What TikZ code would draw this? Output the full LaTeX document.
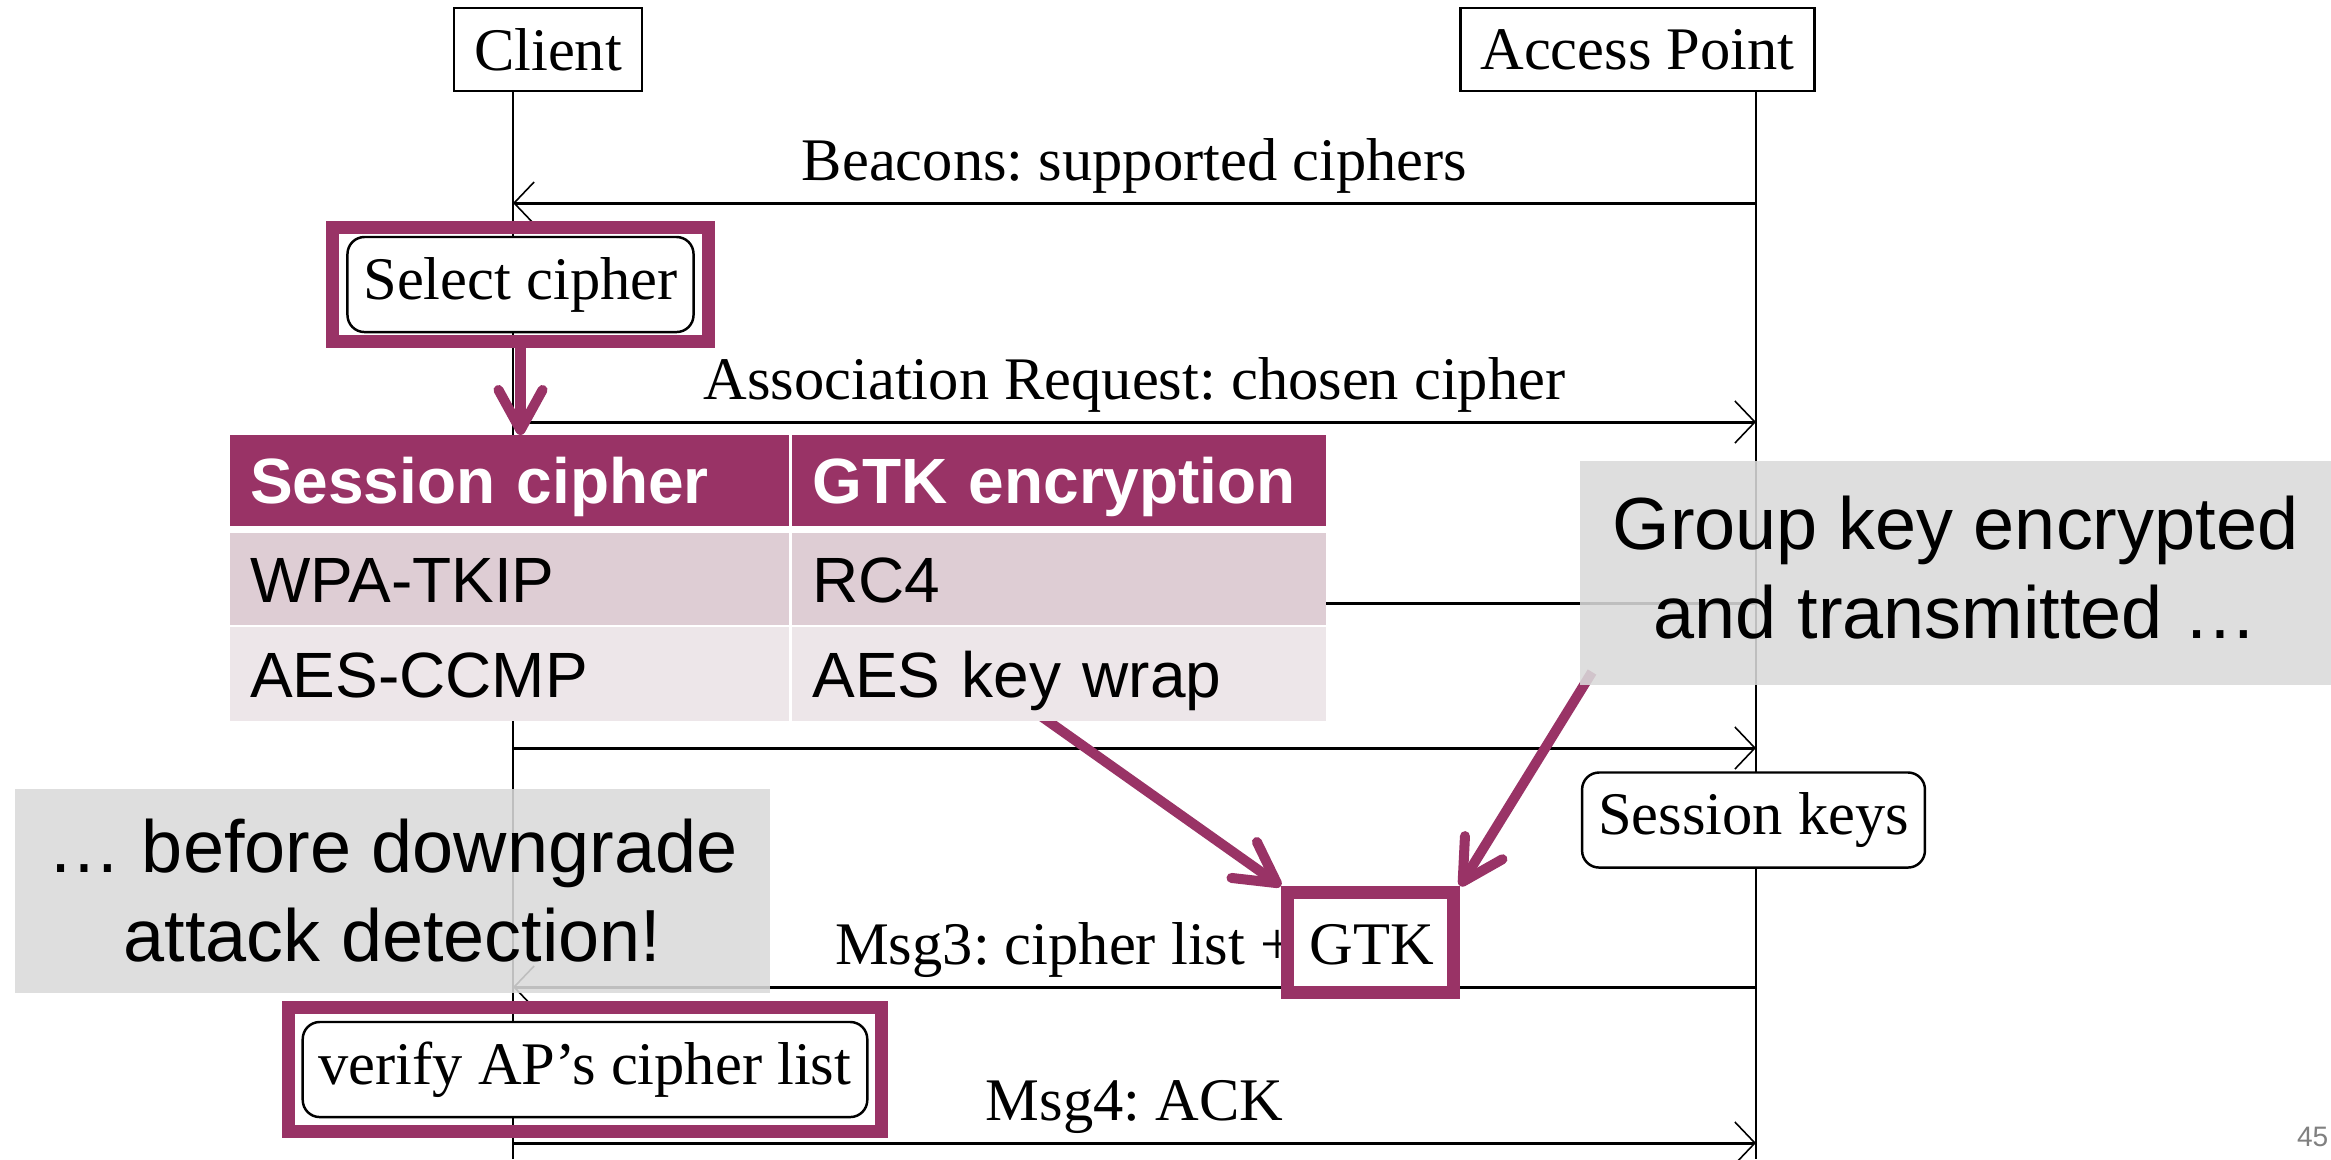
\documentclass[tikz,border=0pt]{standalone}
\usepackage{fontspec}
\setmainfont{Liberation Serif}
\setsansfont{Liberation Sans}
\usepackage{tikz}
\usetikzlibrary{arrows.meta}
\usetikzlibrary{positioning}
\usetikzlibrary{fit}
\definecolor{plum}{RGB}{153,51,102}
\definecolor{rowpink}{RGB}{222,205,212}
\definecolor{rowpale}{RGB}{237,230,233}
\definecolor{notegray}{RGB}{217,217,217}
\definecolor{pagegray}{RGB}{128,128,128}
\frenchspacing

\begin{document}
\begin{tikzpicture}[x=0.01cm,y=-0.01cm,
		diag/.style={font=\fontsize{17.2}{20.6}\selectfont},
		actor/.style={diag,rectangle,draw=black,line width=0.7pt,minimum height=0.83cm,inner xsep=0.2cm},
		life/.style={line width=0.55pt},
		msg/.style={line width=0.85pt,-{Straight Barb[length=0.2cm,width=0.42cm,line width=0.45pt]}},
		lbl/.style={diag,anchor=base,yshift=0.23cm,inner sep=0pt},
		action/.style={diag,rectangle,rounded corners=0.17cm,draw=black,line width=0.7pt,fill=white,minimum height=0.95cm,inner xsep=0.16cm},
		hilite/.style={rectangle,draw=plum,line width=3.7pt},
		hiarrow/.style={draw=plum,line width=2.85pt,-{Straight Barb[round,length=0.4cm,width=0.44cm]}},
		cell/.style={rectangle,font=\sffamily\fontsize{18.2}{21.8}\selectfont,inner xsep=0.2cm,inner ysep=0pt,text height=0.46cm,text depth=0cm,align=left,outer sep=0pt},
		hcell/.style={cell,fill=plum,text=white,font=\sffamily\bfseries\fontsize{18.2}{21.8}\selectfont,minimum height=0.91cm},
		note/.style={rectangle,fill=notegray,fill opacity=0.88,text opacity=1,font=\sffamily\fontsize{21}{25.3}\selectfont,align=center,inner sep=0pt}]
		\useasboundingbox (0,0) rectangle (2331,1159);
		
		\node[actor] (client) at (548,49.5) {Client};
		\node[actor] (ap) at (1637.5,49.5) {Access Point};
		\coordinate (clend) at (513,1159);
		\coordinate (apend) at (1756,1159);
		
		\draw[life] (client.south -| clend) -- (clend);
		\draw[life] (ap.south -| apend) -- (apend);
		
		\draw[msg] (apend |- 0,203) -- node[lbl] {Beacons: supported ciphers} (clend |- 0,203);
		\draw[msg] (clend |- 0,422) -- node[lbl] {Association Request: chosen cipher} (apend |- 0,422);
		\draw[msg] (apend |- 0,603) -- (clend |- 0,603);
		\draw[msg] (clend |- 0,748) -- (apend |- 0,748);
		\draw[msg] (apend |- 0,987) -- node[lbl] {Msg3: cipher list + GTK} (clend |- 0,987);
		\draw[msg] (clend |- 0,1143) -- node[lbl] {Msg4: ACK} (apend |- 0,1143);
		
		\node[action] (sel) at (520.5,284.5) {Select cipher};
		\node[action] (skeys) at (1753.5,820) {Session keys};
		\node[action] (verify) at (585,1069.5) {verify AP’s cipher list};
		
		\node[hilite,fit=(sel),inner xsep=0.14cm,inner ysep=0.085cm] (selfr) {};
		\node[hilite,fit=(verify),inner xsep=0.125cm,inner ysep=0.13cm] (verfr) {};
		\node[hilite,minimum width=1.66cm,minimum height=1cm] (gtk) at (1370.5,942.5) {};
		
		\coordinate (wrap) at (990,680);
		\coordinate (grpfoot) at (1592,672);
		\draw[hiarrow] (wrap) -- (gtk.north west);
		\draw[hiarrow] (grpfoot) -- (gtk.north east);
		
		\node[rectangle,fill=white,minimum width=10.95cm,minimum height=2.86cm,inner sep=0pt,outer sep=0pt,anchor=north west] (tabbg) at (230,435) {};
		\node[hcell,text width=5.19cm,anchor=north west] (sc) at (tabbg.north west) {Session cipher};
		\node[hcell,text width=4.93cm] (ge) [right=0.03cm of sc] {GTK encryption};
		\node[cell,fill=rowpink,text width=5.19cm,minimum height=0.92cm] (tkip) [below=0.07cm of sc] {WPA-TKIP};
		\node[cell,fill=rowpink,text width=4.93cm,minimum height=0.92cm] (rc4) [below=0.07cm of ge] {RC4};
		\node[cell,fill=rowpale,text width=5.19cm,minimum height=0.94cm] (ccmp) [below=0.02cm of tkip] {AES-CCMP};
		\node[cell,fill=rowpale,text width=4.93cm,minimum height=0.94cm] (keywrap) [below=0.02cm of rc4] {AES key wrap};
		
		\draw[hiarrow] (selfr.south) -- (selfr.south |- sc.north);
		
		\node[note,minimum width=7.55cm,minimum height=2.04cm] (before) at (392.5,891) {… before downgrade\\attack detection!};
		\node[note,minimum width=7.51cm,minimum height=2.24cm,text depth=0.12cm] (group) at (1955.5,573) {Group key encrypted\\and transmitted …};
		
		\node[font=\sffamily\fontsize{8}{9.6}\selectfont,text=pagegray,anchor=base east,inner sep=0pt] (pageno) at (2329,1146) {45};
\end{tikzpicture}
\end{document}
